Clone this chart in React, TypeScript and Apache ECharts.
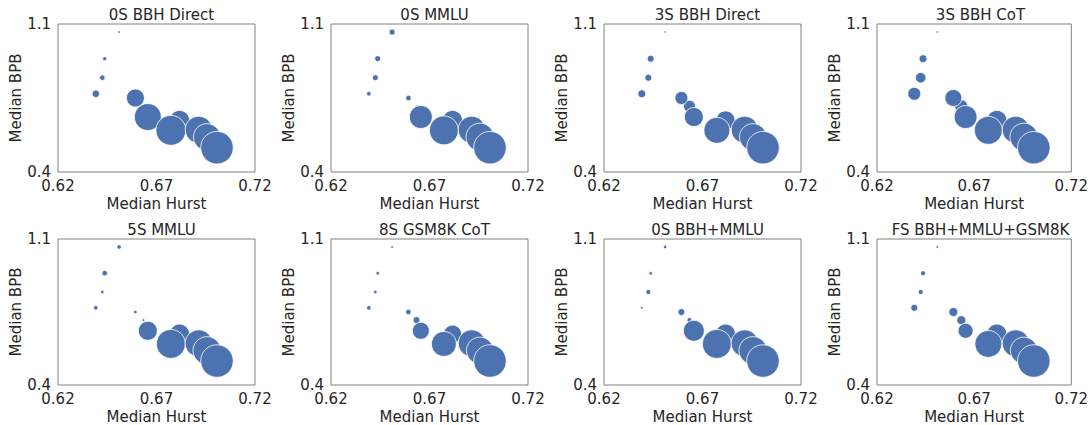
import React, { useEffect, useRef } from "react";
import * as echarts from "echarts";

// Shared point positions (drawing order)
const hurst = [0.651, 0.6437, 0.6425, 0.6392, 0.6634, 0.6593, 0.6656, 0.6817, 0.6773, 0.6914, 0.6956, 0.7007];
const bpb = [1.062, 0.936, 0.846, 0.77, 0.711, 0.75, 0.66, 0.644, 0.597, 0.6, 0.565, 0.515];

const titles = [
  "0S BBH Direct",
  "0S MMLU",
  "3S BBH Direct",
  "3S BBH CoT",
  "5S MMLU",
  "8S GSM8K CoT",
  "0S BBH+MMLU",
  "FS BBH+MMLU+GSM8K",
];

// Marker diameters (px) per panel
const size0SBBHDirect = [2.5, 4, 5.5, 7.5, 2.5, 18, 27, 20, 30, 27, 27, 32.5];
const size0SMMLU = [6, 6, 6, 4.5, 2.5, 5.5, 23, 20, 29, 27, 28, 32.5];
const size3SBBHDirect = [2.2, 7, 7, 8, 12, 13, 19, 19, 26, 27, 27, 32.5];
const size3SBBHCoT = [2.2, 8, 10.5, 13, 13, 17, 23, 20, 28, 27, 28, 32.5];
const size5SMMLU = [4.5, 5.5, 3.5, 4.5, 2.5, 3.5, 19, 20, 29, 27, 28, 32.5];
const size8SGSM8K = [2.5, 3.5, 3.5, 4.5, 7, 5.5, 17, 18, 25, 27, 27, 32.5];
const size0SBBHMMLU = [3.5, 3.5, 5, 2.5, 5, 7, 21, 20, 29, 27, 28, 32.5];
const sizeFS = [2.5, 5, 5, 7, 9, 9, 15, 20, 27, 27, 27, 32.5];

const sizes = [size0SBBHDirect, size0SMMLU, size3SBBHDirect, size3SBBHCoT, size5SMMLU, size8SGSM8K, size0SBBHMMLU, sizeFS];

const xTicks = [0.62, 0.67, 0.72];
const yTicks = [0.4, 1.1];

const FONT = "DejaVu Sans";
const TEXT = "#262626";

export default function App() {
  const ref = useRef<HTMLDivElement>(null);
  useEffect(() => {
    if (!ref.current) return;
    const chart = echarts.init(ref.current, null, { renderer: "svg" });
    const lefts = [58, 331, 604, 877];
    const tops = [24, 239];
    const W = 197;
    const H = 148;
    const grid: any[] = [];
    const xAxis: any[] = [];
    const yAxis: any[] = [];
    const series: any[] = [];
    const title: any[] = [];
    for (let i = 0; i < 8; i++) {
      const r = Math.floor(i / 4);
      const c = i % 4;
      grid.push({
        left: lefts[c],
        top: tops[r],
        width: W,
        height: H,
        show: true,
        borderColor: "#808080",
        borderWidth: 1,
        containLabel: false,
      });
      title.push({
        text: titles[i],
        left: lefts[c] + W / 2,
        top: tops[r] - 22,
        textAlign: "center",
        textStyle: { fontFamily: FONT, fontSize: 15, fontWeight: "normal", color: TEXT },
      });
      xAxis.push({
        gridIndex: i,
        type: "value",
        min: 0.62,
        max: 0.72,
        name: "Median Hurst",
        nameLocation: "middle",
        nameGap: 24,
        nameTextStyle: { fontFamily: FONT, fontSize: 15, color: TEXT },
        axisLine: { show: false },
        axisTick: { show: false },
        splitLine: { show: false },
        axisLabel: {
          customValues: xTicks,
          formatter: (v: number) => v.toFixed(2),
          fontFamily: FONT,
          fontSize: 15,
          lineHeight: 14,
          color: TEXT,
          margin: 7,
        },
      });
      yAxis.push({
        gridIndex: i,
        type: "value",
        min: 0.4,
        max: 1.1,
        name: "Median BPB",
        nameLocation: "middle",
        nameGap: 34,
        nameTextStyle: { fontFamily: FONT, fontSize: 15, color: TEXT },
        axisLine: { show: false },
        axisTick: { show: false },
        splitLine: { show: false },
        axisLabel: {
          customValues: yTicks,
          formatter: (v: number) => v.toFixed(1),
          fontFamily: FONT,
          fontSize: 15,
          lineHeight: 14,
          color: TEXT,
          margin: 7,
        },
      });
      series.push({
        type: "scatter",
        xAxisIndex: i,
        yAxisIndex: i,
        data: hurst.map((h, k) => [h, bpb[k], sizes[i][k]]),
        symbolSize: (d: number[]) => d[2],
        itemStyle: { color: "#4C72B0", opacity: 1, borderColor: "#ffffff", borderWidth: 0.8 },
        clip: false,
      });
    }
    chart.setOption({
      animation: false,
      backgroundColor: "#ffffff",
      title,
      grid,
      xAxis,
      yAxis,
      series,
    });
    return () => chart.dispose();
  }, []);
  return <div ref={ref} style={{ width: 1091, height: 425, position: "absolute", left: 0, top: 0 }} />;
}
